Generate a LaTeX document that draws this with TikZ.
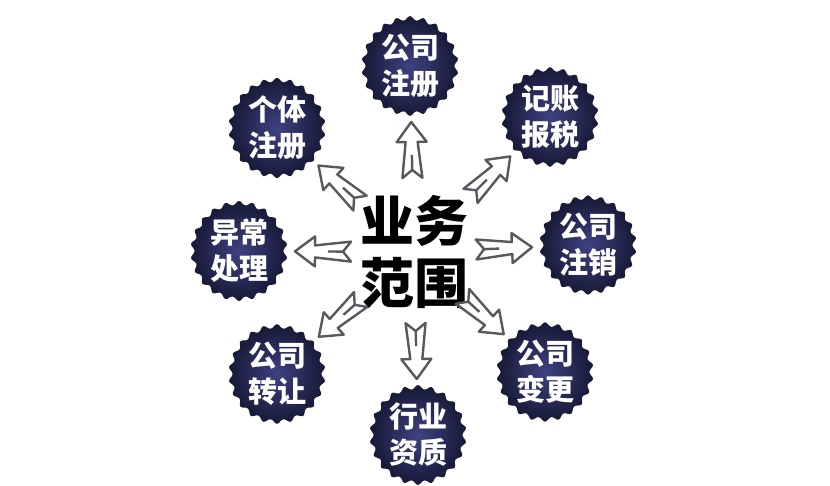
\documentclass[tikz,border=0pt]{standalone}
\usepackage{fontspec}
\newfontfamily\cjk{Noto Sans CJK SC}
\usetikzlibrary{calc,shapes.symbols}
\definecolor{badgein}{RGB}{62,66,128}
\definecolor{badgeout}{RGB}{22,24,52}
\definecolor{arrowgray}{RGB}{88,88,94}
\tikzset{
  badge/.style={starburst,starburst points=22,starburst point height=6pt,random starburst=0,
    minimum size=99pt,inner sep=0pt,shading=radial,inner color=badgein,outer color=badgeout,
    rounded corners=2.5pt,text=white,align=center,
    font=\cjk\bfseries\fontsize{29}{36}\selectfont},
  core text/.style={text=black,align=center,inner sep=0pt,
    font=\cjk\bfseries\fontsize{54}{62}\selectfont},
  arrow line/.style={draw=arrowgray,fill=white,line width=2.4pt,line join=round},
  bizarrow/.pic={
    \draw[arrow line] (0,0) -- (-20,15) -- (-20,6) -- (-56,10) -- (-48,0)
      -- (-56,-10) -- (-20,-6) -- (-20,-15) -- cycle;
    \draw[arrow line] (-48,0) -- (-33,0);
  },
}

\begin{document}
\begin{tikzpicture}[x=1pt,y=1pt]
  \useasboundingbox (0,0) rectangle (830,485);
  \node[core text] (core) at (414,233) {业务\\范围};
  \node[badge] (b1) at (410,419) {公司\\注册};
  \node[badge] (b2) at (550,368) {记账\\报税};
  \node[badge] (b3) at (588,240) {公司\\注销};
  \node[badge] (b4) at (545,113) {公司\\变更};
  \node[badge] (b5) at (418,50) {行业\\资质};
  \node[badge] (b6) at (277,111) {公司\\转让};
  \node[badge] (b7) at (239,234) {异常\\处理};
  \node[badge] (b8) at (277,357) {个体\\注册};
  % arrows from the centre text out to each badge
  \foreach \i in {1,...,8}
    \path let \p1=($(b\i)-(core)$), \n1={atan2(\y1,\x1)} in
      ($(b\i)!56pt!(core)$) pic[rotate=\n1] {bizarrow};
\end{tikzpicture}
\end{document}
